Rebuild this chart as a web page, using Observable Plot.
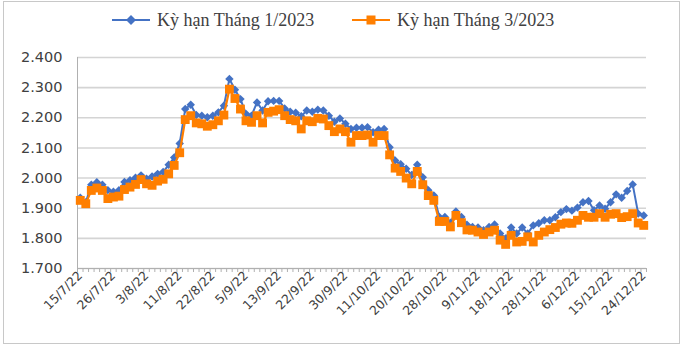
<!DOCTYPE html>
<html><head><meta charset="utf-8">
<script src="https://cdn.jsdelivr.net/npm/d3@7"></script>
<script src="https://cdn.jsdelivr.net/npm/@observablehq/plot@0.6"></script>
<style>
body{margin:0;background:#fff;}
#wrap{position:relative;width:684px;height:347px;overflow:hidden;background:#fff;}
#frame{position:absolute;left:3px;top:1px;width:675px;height:341px;border:1px solid #c8c8c8;pointer-events:none;}
#legend{position:absolute;top:7px;left:0;width:684px;height:26px;font-family:"Liberation Serif",serif;font-size:18px;color:#404040;}
.item{position:absolute;top:0;display:flex;align-items:center;height:26px;white-space:nowrap;}
.item svg{margin-right:7px;}
</style></head>
<body><div id="wrap"><div id="chart"></div><div id="legend"></div><div id="frame"></div></div>
<script>
const seriesNames = ["Kỳ hạn Tháng 1/2023", "Kỳ hạn Tháng 3/2023"];
const tickLabels = ["15/7/22","26/7/22","3/8/22","11/8/22","22/8/22","5/9/22","13/9/22","22/9/22","30/9/22","11/10/22","20/10/22","28/10/22","9/11/22","18/11/22","28/11/22","6/12/22","15/12/22","24/12/22"];
const labelStep = 6;
const yTicks = [1.7, 1.8, 1.9, 2.0, 2.1, 2.2, 2.3, 2.4];
const jan = [1.935,1.920,1.978,1.986,1.978,1.960,1.955,1.960,1.987,1.993,2.001,2.009,1.998,2.005,2.014,2.020,2.044,2.068,2.115,2.229,2.243,2.209,2.207,2.202,2.207,2.218,2.240,2.329,2.293,2.262,2.213,2.207,2.251,2.224,2.255,2.256,2.256,2.231,2.220,2.217,2.205,2.224,2.220,2.227,2.224,2.207,2.187,2.198,2.180,2.163,2.167,2.167,2.169,2.152,2.160,2.163,2.102,2.058,2.046,2.031,2.010,2.044,2.003,1.960,1.942,1.871,1.871,1.852,1.889,1.871,1.845,1.838,1.836,1.827,1.838,1.846,1.816,1.800,1.836,1.816,1.836,1.816,1.843,1.850,1.860,1.860,1.870,1.887,1.897,1.892,1.902,1.920,1.924,1.893,1.909,1.898,1.920,1.946,1.935,1.957,1.979,1.882,1.876];
const mar = [1.926,1.915,1.959,1.967,1.959,1.932,1.937,1.940,1.962,1.970,1.979,1.995,1.981,1.976,1.990,1.996,2.014,2.042,2.084,2.194,2.207,2.183,2.180,2.172,2.177,2.190,2.209,2.295,2.264,2.229,2.190,2.185,2.207,2.183,2.218,2.222,2.227,2.207,2.194,2.190,2.163,2.190,2.187,2.198,2.196,2.174,2.154,2.163,2.154,2.119,2.141,2.141,2.143,2.119,2.141,2.141,2.077,2.033,2.022,2.000,1.981,2.022,1.978,1.942,1.926,1.856,1.856,1.838,1.876,1.852,1.828,1.827,1.821,1.813,1.821,1.827,1.794,1.780,1.810,1.788,1.790,1.805,1.788,1.810,1.821,1.829,1.836,1.847,1.851,1.850,1.860,1.876,1.870,1.870,1.882,1.870,1.880,1.882,1.869,1.872,1.882,1.851,1.843];

const blueC = "#4472C4", orangeC = "#FF7F00";
const n = jan.length;
const rows = d3.range(n).map(i => ({i, a: jan[i], b: mar[i]}));
const labelIdx = tickLabels.map((_, k) => k * labelStep);
const fmt = d3.format(".3f");

const chart = Plot.plot({
  width: 684, height: 347,
  marginLeft: 77, marginRight: 38, marginTop: 57, marginBottom: 79,
  x: {domain: [-0.5, n - 0.5], axis: null, label: null},
  y: {domain: [1.7, 2.4], axis: null, label: null},
  style: {fontFamily: "DejaVu Sans", background: "white", overflow: "visible"},
  marks: [
    Plot.gridY(yTicks, {stroke: "#d4d4d4", strokeOpacity: 1, strokeWidth: 1.6}),
    Plot.axisY(yTicks, {tickSize: 0, tickPadding: 15, tickFormat: d => fmt(d), fontSize: 14.5, fill: "#404040", label: null}),
    Plot.axisX(d3.range(n + 1).map(i => i - 0.5), {tickSize: 4, tickFormat: () => "", stroke: "#b0b0b0", label: null}),
    Plot.axisX(labelIdx, {tickSize: 0, tickRotate: -45, tickPadding: 5, tickFormat: d => tickLabels[d / labelStep], fontSize: 12.5, fill: "#404040", label: null}),
    Plot.ruleX([-0.5], {stroke: "#b0b0b0"}),
    Plot.ruleY([1.7], {stroke: "#b0b0b0"}),
    Plot.line(rows, {x: "i", y: "a", stroke: blueC, strokeWidth: 2}),
    Plot.dot(rows, {x: "i", y: "a", symbol: "diamond2", r: 3.8, fill: blueC}),
    Plot.line(rows, {x: "i", y: "b", stroke: orangeC, strokeWidth: 2.2}),
    Plot.dot(rows, {x: "i", y: "b", symbol: "square", r: 5, fill: orangeC})
  ]
});
document.getElementById("chart").appendChild(chart);

const legend = document.getElementById("legend");
const legendDefs = [
  {name: seriesNames[0], color: blueC, left: 112, marker: '<path d="M19,8 L24,13 L19,18 L14,13 Z"/>'},
  {name: seriesNames[1], color: orangeC, left: 352, marker: '<rect x="14.5" y="8.5" width="9" height="9"/>'}
];
legendDefs.forEach(d => {
  const el = document.createElement("div");
  el.className = "item";
  el.style.left = d.left + "px";
  el.innerHTML = `<svg width="38" height="26"><line x1="0" x2="38" y1="13" y2="13" stroke="${d.color}" stroke-width="2"/><g fill="${d.color}">${d.marker}</g></svg><span>${d.name}</span>`;
  legend.appendChild(el);
});
</script>
</body></html>
